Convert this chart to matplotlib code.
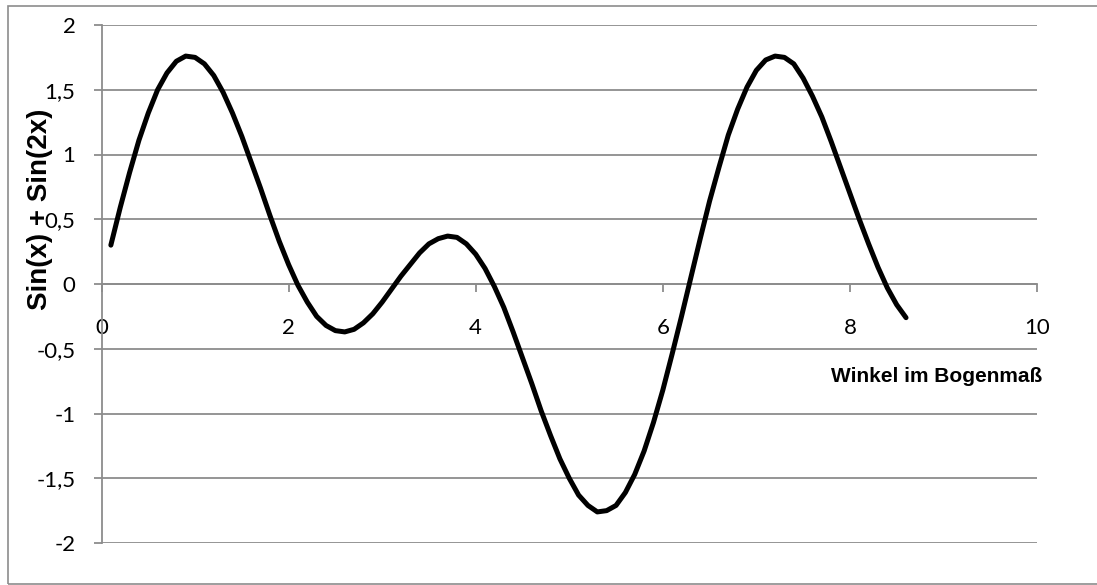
import matplotlib
matplotlib.use("Agg")
import matplotlib.pyplot as plt
from matplotlib.patches import Rectangle
from matplotlib.ticker import FuncFormatter

# Data (x in radians, y value)
x_vals = [0.1, 0.2, 0.3, 0.4, 0.5, 0.6, 0.7, 0.8, 0.9, 1.0,
          1.1, 1.2, 1.3, 1.4, 1.5, 1.6, 1.7, 1.8, 1.9, 2.0,
          2.1, 2.2, 2.3, 2.4, 2.5, 2.6, 2.7, 2.8, 2.9, 3.0,
          3.1, 3.2, 3.3, 3.4, 3.5, 3.6, 3.7, 3.8, 3.9, 4.0,
          4.1, 4.2, 4.3, 4.4, 4.5, 4.6, 4.7, 4.8, 4.9, 5.0,
          5.1, 5.2, 5.3, 5.4, 5.5, 5.6, 5.7, 5.8, 5.9, 6.0,
          6.1, 6.2, 6.3, 6.4, 6.5, 6.6, 6.7, 6.8, 6.9, 7.0,
          7.1, 7.2, 7.3, 7.4, 7.5, 7.6, 7.7, 7.8, 7.9, 8.0,
          8.1, 8.2, 8.3, 8.4, 8.5, 8.6]
y_vals = [0.30, 0.59, 0.86, 1.11, 1.32, 1.50, 1.63, 1.72, 1.76, 1.75,
          1.70, 1.61, 1.48, 1.32, 1.14, 0.94, 0.74, 0.53, 0.33, 0.15,
          -0.01, -0.14, -0.25, -0.32, -0.36, -0.37, -0.35, -0.30, -0.23, -0.14,
          -0.04, 0.06, 0.15, 0.24, 0.31, 0.35, 0.37, 0.36, 0.31, 0.23,
          0.12, -0.02, -0.18, -0.37, -0.57, -0.77, -0.98, -1.17, -1.35, -1.50,
          -1.63, -1.71, -1.76, -1.75, -1.71, -1.61, -1.47, -1.29, -1.07, -0.82,
          -0.54, -0.25, 0.05, 0.35, 0.64, 0.90, 1.15, 1.35, 1.52, 1.65,
          1.73, 1.76, 1.75, 1.70, 1.59, 1.45, 1.29, 1.10, 0.90, 0.70,
          0.50, 0.31, 0.13, -0.03, -0.16, -0.26]

x_ticks = [0, 2, 4, 6, 8, 10]
y_ticks = [-2, -1.5, -1, -0.5, 0, 0.5, 1, 1.5, 2]
x_label = "Winkel im Bogenmaß"
y_label = "Sin(x) + Sin(2x)"

W, H = 1097, 585
fig = plt.figure(figsize=(W / 100, H / 100), dpi=100)
fig.patch.set_facecolor("white")

# outer border
fig.patches.append(Rectangle((8 / W, 1 / H), 1.2, 1 - 7 / H, transform=fig.transFigure,
                             fill=False, edgecolor="#8c8c8c", linewidth=1.2, clip_on=False))

ax = fig.add_axes([101.5 / W, 1 - 543 / H, 935.5 / W, 518 / H])
grid_col = "#8c8c8c"

ax.plot(x_vals, y_vals, color="black", linewidth=3.6, solid_capstyle="round",
        solid_joinstyle="round", zorder=3)

ax.set_xlim(0, 10)
ax.set_ylim(-2, 2)
ax.set_xticks(x_ticks)
ax.set_yticks(y_ticks)

fmt = FuncFormatter(lambda v, p: ("%g" % v).replace(".", ","))
ax.xaxis.set_major_formatter(fmt)
ax.yaxis.set_major_formatter(fmt)

ax.yaxis.grid(True, color=grid_col, linewidth=1.3)
ax.xaxis.grid(False)
ax.set_axisbelow(True)

for s in ["top", "right"]:
    ax.spines[s].set_visible(False)
ax.spines["bottom"].set_position(("data", 0))
ax.spines["bottom"].set_color(grid_col)
ax.spines["bottom"].set_linewidth(1.3)
ax.spines["left"].set_color(grid_col)
ax.spines["left"].set_linewidth(1.3)

tick_font = "Lato"
ax.tick_params(axis="x", direction="out", length=5.8, width=1.3, color=grid_col,
               pad=19, labelsize=16)
ax.tick_params(axis="y", direction="out", length=5.8, width=1.3, color=grid_col,
               pad=13, labelsize=16)
for lab in ax.get_xticklabels() + ax.get_yticklabels():
    lab.set_fontfamily(tick_font)

fig.text(1042 / W, 1 - 377 / H, x_label, ha="right", va="center",
         fontsize=15, fontweight="bold", family="Liberation Sans")
fig.text(40 / W, 1 - 209 / H, y_label, ha="center", va="center", rotation=90,
         fontsize=20, fontweight="bold", family="Liberation Sans")

fig.savefig("out.png", dpi=100)
